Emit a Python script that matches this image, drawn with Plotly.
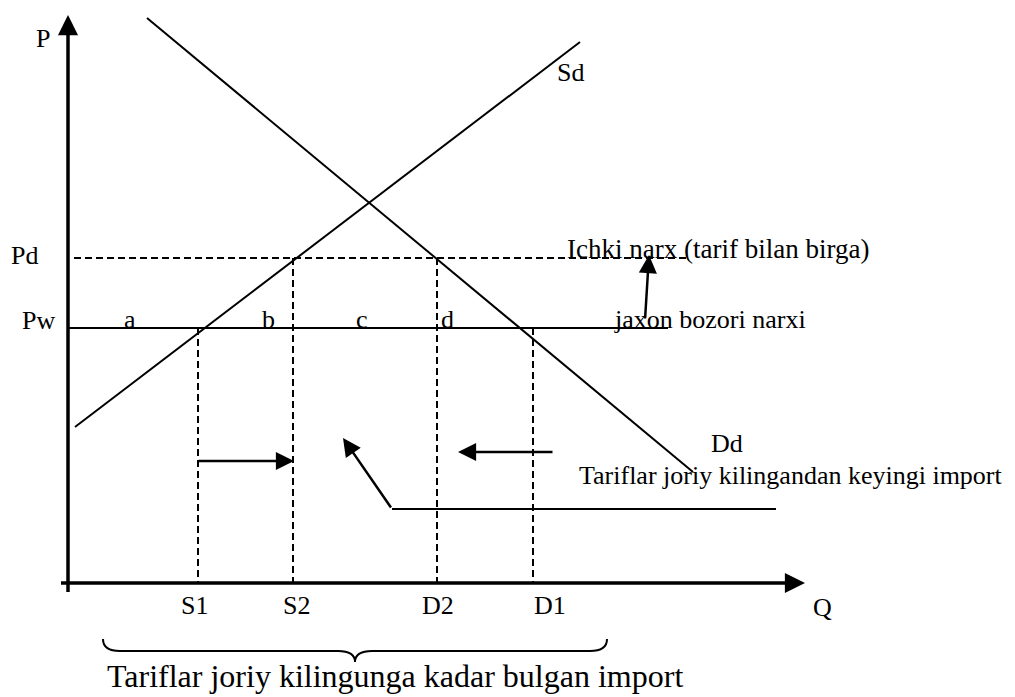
import plotly.graph_objects as go

# ---- diagram values (Q = quantity units, P = price units; origin at axes corner) ----
PW = 255            # world price
PD = 325            # domestic price (with tariff)
S1, S2, D2, D1 = 130, 225, 369, 465
supply_q = [7, 512]
supply_p = [156, 541]
demand_q = [79, 625]
demand_p = [565, 111]
pd_line_q = [6, 622]
pw_line_q = [0, 600]
p_axis = [-9, 568]
q_axis = [-7, 737]
q_ticks = ["S1", "S2", "D2", "D1"]
q_tick_pos = [126, 228, 370, 482]
area_labels = ["a", "b", "c", "d"]
area_label_q = [62, 200, 294, 379]
shift_arrow_right = [129, 226, 122]     # tail q, tip q, p
shift_arrow_left = [486, 390, 131]
pointer_line_q = [708, 324]
pointer_p = 74
pointer_tip = [275, 145]
up_arrow = [577, 263, 581, 328]         # tail q, tail p, tip q, tip p
brace_q = [35, 539]
brace_tip_q = 287
brace_p = [-56, -68, -79]               # end, line, tip

FONT = "Liberation Serif"
BLACK = "#000000"

fig = go.Figure()

def seg(xs, ys, width=2, dash=None):
    fig.add_trace(go.Scatter(x=xs, y=ys, mode="lines", hoverinfo="skip",
                             line=dict(color=BLACK, width=width, dash=dash),
                             showlegend=False))

# supply & demand
seg(supply_q, supply_p, 2)
seg(demand_q, demand_p, 2)
# price lines
seg(pd_line_q, [PD, PD], 2, "7px,4px")
seg(pw_line_q, [PW, PW], 2)
# vertical dashed guides
for q, p in zip([S1, S2, D2, D1], [PW, PD, PD, PW]):
    seg([q, q], [p, 0], 2, "7px,4px")
# pointer horizontal line
seg(pointer_line_q, [pointer_p, pointer_p], 2)
# axes lines (without arrow part)
seg([0, 0], [p_axis[0], p_axis[1] - 12], 3.5)
seg([q_axis[0], q_axis[1] - 12], [0, 0], 3.5)

def arrow(tail_x, tail_y, tip_x, tip_y, width=2.5, size=1.45):
    fig.add_annotation(x=tip_x, y=tip_y, ax=tail_x, ay=tail_y, xref="x", yref="y",
                       axref="x", ayref="y", text="", showarrow=True,
                       arrowhead=2, arrowsize=size, arrowwidth=width,
                       arrowcolor=BLACK, standoff=0, startstandoff=0)

# axis arrows
arrow(0, p_axis[1] - 20, 0, p_axis[1], 3.5, 1.15)
arrow(q_axis[1] - 20, 0, q_axis[1], 0, 3.5, 1.15)
# shift arrows
arrow(shift_arrow_right[0], shift_arrow_right[2], shift_arrow_right[1], shift_arrow_right[2])
arrow(shift_arrow_left[0], shift_arrow_left[2], shift_arrow_left[1], shift_arrow_left[2])
arrow(pointer_line_q[1], pointer_p, pointer_tip[0], pointer_tip[1])
arrow(up_arrow[0], up_arrow[1], up_arrow[2], up_arrow[3])

def label(txt, x, y, size=26, xanchor="center"):
    fig.add_annotation(x=x, y=y, xref="x", yref="y", text=txt, showarrow=False,
                       xanchor=xanchor, yanchor="middle",
                       font=dict(family=FONT, size=size, color=BLACK))

label("P", -25, 545)
label("Pd", -44, 328)
label("Pw", -30, 263)
label("Q", 754, -24)
for t, q in zip(area_labels, area_label_q):
    label(t, q, PW + 9)
for t, q in zip(q_ticks, q_tick_pos):
    label(t, q, -22)
label("Sd", 502, 511)
label("Dd", 659, 140)
label("Ichki narx (tarif bilan birga)", 497, PD + 9, size=27, xanchor="left")
label("jaxon bozori narxi", 544, PW + 9, xanchor="left")
label("Tariflar joriy kilingandan keyingi import", 509, 108, xanchor="left")
label("Tariflar joriy kilingunga kadar bulgan import", 327, -93, size=32)

# brace under the import range
x0, x1, xt = brace_q[0], brace_q[1], brace_tip_q
ye, yl, yt = brace_p
c = 17
path = (f"M {x0},{ye} Q {x0},{yl} {x0 + c},{yl} L {xt - c},{yl} "
        f"Q {xt},{yl} {xt},{yt} Q {xt},{yl} {xt + c},{yl} "
        f"L {x1 - c},{yl} Q {x1},{yl} {x1},{ye}")
fig.add_shape(type="path", path=path, xref="x", yref="y",
              line=dict(color=BLACK, width=2))

fig.update_layout(
    width=1015, height=697, autosize=False,
    margin=dict(l=0, r=0, t=0, b=0),
    paper_bgcolor="white", plot_bgcolor="white",
    xaxis=dict(range=[-68, 947], visible=False, fixedrange=True),
    yaxis=dict(range=[-114, 583], visible=False, fixedrange=True),
    showlegend=False,
)

fig.write_html("out.html", config={"displayModeBar": False},
               post_script="document.body.style.margin='0';")
